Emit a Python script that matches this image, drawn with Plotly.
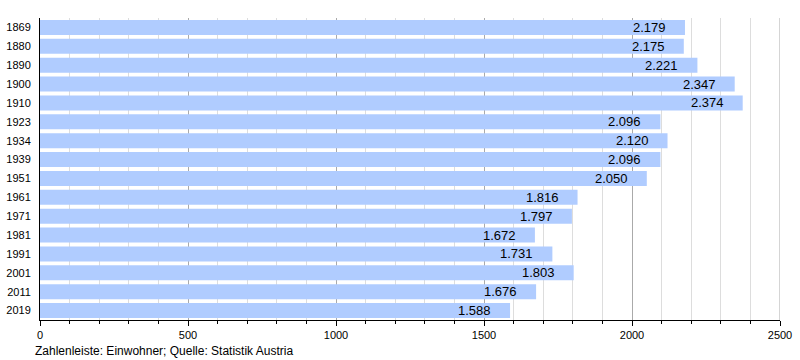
import plotly.graph_objects as go

years = ["1869", "1880", "1890", "1900", "1910", "1923", "1934", "1939", "1951",
         "1961", "1971", "1981", "1991", "2001", "2011", "2019"]
population = [2179, 2175, 2221, 2347, 2374, 2096, 2120, 2096, 2050,
              1816, 1797, 1672, 1731, 1803, 1676, 1588]
x_ticks = [0, 500, 1000, 1500, 2000, 2500]
footer = "Zahlenleiste: Einwohner; Quelle: Statistik Austria"


def de_fmt(v):
    return f"{v:,}".replace(",", ".")


fig = go.Figure()
fig.add_trace(go.Bar(
    x=population, y=years, orientation="h",
    marker=dict(color="#B0CCFF", line=dict(width=0)),
    width=0.8, hoverinfo="skip",
))

for i, v in enumerate(population):
    fig.add_annotation(x=v, y=i, text=de_fmt(v), showarrow=False,
                       xanchor="right", xshift=-17, yshift=0,
                       font=dict(family="Liberation Sans, Arial", size=13, color="#000"))

fig.add_annotation(x=0, y=0, xref="paper", yref="paper", xanchor="left", yanchor="top",
                   text=footer, showarrow=False, xshift=-7, yshift=-22,
                   font=dict(family="Liberation Sans, Arial", size=12, color="#000"))

# right-edge grid line at the last major tick
fig.add_shape(type="line", x0=x_ticks[-1], x1=x_ticks[-1], y0=0, y1=1,
              xref="x", yref="paper", line=dict(color="#AAAAAA", width=1), layer="below")

fig.update_layout(
    width=800, height=360,
    margin=dict(l=40, r=20, t=18, b=40),
    paper_bgcolor="white", plot_bgcolor="white",
    showlegend=False, bargap=0.2,
    font=dict(family="Liberation Sans, Arial", size=11, color="#000"),
    xaxis=dict(
        range=[0, 2500], tickvals=x_ticks, ticktext=[str(t) for t in x_ticks],
        showgrid=True, gridcolor="#AAAAAA", gridwidth=1,
        minor=dict(dtick=100, showgrid=True, gridcolor="#DDDDDD", gridwidth=1,
                   ticks="outside", ticklen=3, tickcolor="#000"),
        ticks="outside", ticklen=5, tickcolor="#000",
        showline=True, linecolor="#000", linewidth=1,
        zeroline=False, tickfont=dict(size=11), automargin=False,
    ),
    yaxis=dict(
        type="category", categoryorder="array", categoryarray=years,
        range=[len(years) - 0.5, -0.5], autorange=False,
        showline=True, linecolor="#000", linewidth=1,
        ticks="", ticklabelstandoff=6, showgrid=False, tickfont=dict(size=11),
        automargin=False,
    ),
)

fig.write_html("out.html",
               config={"displayModeBar": False},
               post_script="document.body.style.margin='0';document.body.style.overflow='hidden';")
